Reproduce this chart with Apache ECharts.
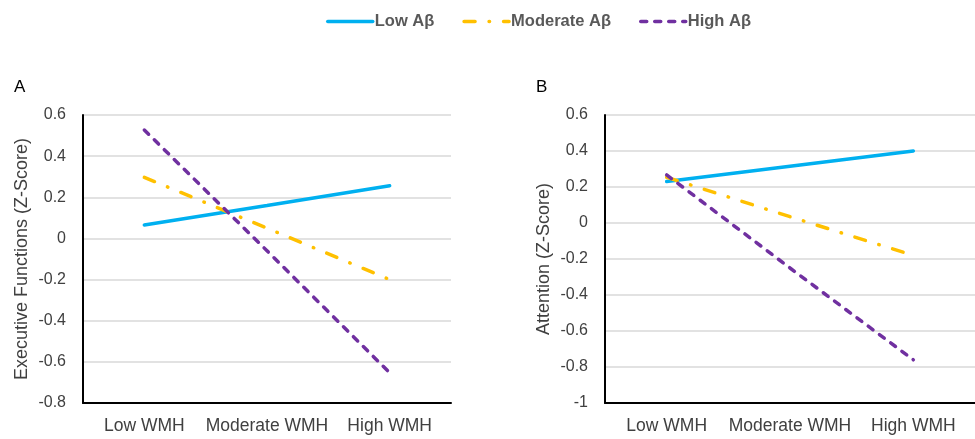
<!DOCTYPE html>
<html>
<head>
<meta charset="utf-8">
<script src="https://cdn.jsdelivr.net/npm/echarts@6/dist/echarts.min.js"></script>
<style>
  html, body { margin: 0; padding: 0; background: #fff; }
  #chart { width: 975px; height: 439px; }
</style>
</head>
<body>
<div id="chart"></div>
<script>
// x categories shared by both panels
const categories = ['Low WMH', 'Moderate WMH', 'High WMH']
const seriesNames = ['Low A\u03b2', 'Moderate A\u03b2', 'High A\u03b2']

// panel A - executive functions
const execLow = [0.065, 0.16, 0.256]
const execModerate = [0.297, 0.05, -0.20]
const execHigh = [0.527, -0.06, -0.653]

// panel B - attention
const attnLow = [0.23, 0.315, 0.40]
const attnModerate = [0.254, 0.035, -0.18]
const attnHigh = [0.267, -0.25, -0.76]

const colors = ['#00b0f0', '#ffc000', '#7030a0']
const dashes = ['solid', [11, 14, 0.5, 14], [6, 8]]

const font = 'Arial, "Liberation Sans", sans-serif'
const textColor = '#404040'

const fmt = v => String(Math.round(v * 10) / 10)

const makeY = (idx, min, name) => ({
    type: 'value',
    gridIndex: idx,
    min: min,
    max: 0.6,
    interval: 0.2,
    name: name,
    nameLocation: 'middle',
    nameGap: 52,
    nameTextStyle: { fontFamily: font, fontSize: 18, color: textColor },
    axisLine: { show: true, lineStyle: { color: '#000', width: 2 } },
    axisTick: { show: false },
    axisLabel: { fontFamily: font, fontSize: 16, color: textColor, margin: 17, formatter: fmt },
    splitLine: { lineStyle: { color: '#d9d9d9', width: 1.5 } }
})

const makeX = idx => ({
    type: 'category',
    gridIndex: idx,
    data: categories,
    boundaryGap: true,
    axisLine: { onZero: false, lineStyle: { color: '#000', width: 2 } },
    axisTick: { show: false },
    axisLabel: { interval: 0, fontFamily: font, fontSize: 17.5, color: textColor, margin: 14 }
})

const makeSeries = (idx, data, i) => ({
    name: seriesNames[i],
    type: 'line',
    xAxisIndex: idx,
    yAxisIndex: idx,
    data: data,
    symbol: 'none',
    silent: true,
    lineStyle: { color: colors[i], width: 3.5, type: dashes[i], cap: 'round' },
    itemStyle: { color: colors[i] }
})

const chart = echarts.init(document.getElementById('chart'), null, { renderer: 'canvas' })

chart.setOption({
    animation: false,
    backgroundColor: '#fff',
    title: [
        { text: 'A', left: 9, top: 74, textStyle: { fontFamily: font, fontSize: 17, fontWeight: 'normal', color: '#000' } },
        { text: 'B', left: 531, top: 74, textStyle: { fontFamily: font, fontSize: 17, fontWeight: 'normal', color: '#000' } }
    ],
    legend: {
        left: 321,
        top: 8,
        itemWidth: 45,
        itemHeight: 14,
        itemGap: 28,
        data: seriesNames,
        itemStyle: { opacity: 0 },
        lineStyle: { width: 3.5 },
        textStyle: { fontFamily: font, fontSize: 16.5, fontWeight: 'bold', color: '#595959', padding: [0, 0, 0, -3] }
    },
    grid: [
        { left: 83, top: 115, width: 368, height: 288 },
        { left: 605, top: 115, width: 381, height: 288 }
    ],
    xAxis: [makeX(0), makeX(1)],
    yAxis: [
        makeY(0, -0.8, 'Executive Functions (Z-Score)'),
        makeY(1, -1, 'Attention (Z-Score)')
    ],
    series: [
        makeSeries(0, execLow, 0),
        makeSeries(0, execModerate, 1),
        makeSeries(0, execHigh, 2),
        makeSeries(1, attnLow, 0),
        makeSeries(1, attnModerate, 1),
        makeSeries(1, attnHigh, 2)
    ]
})
</script>
</body>
</html>
